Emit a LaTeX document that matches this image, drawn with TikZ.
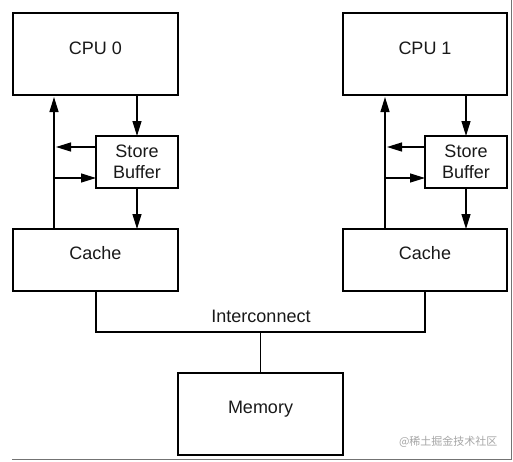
\documentclass[tikz,border=0pt]{standalone}
\usepackage{fontspec}
\setmainfont{Liberation Sans}
\newfontfamily\cjk{Noto Sans CJK SC}
\usetikzlibrary{arrows.meta,calc}
\begin{document}
\begin{tikzpicture}[x=1pt,y=-1pt,
  box/.style={draw,line width=1.3pt,minimum width=#1,inner sep=0pt,outer sep=0pt},
  lbl/.style={font=\fontsize{18}{21}\selectfont,text=black!90},
  arr/.style={line width=1.3pt,-{Triangle[length=15pt,width=9pt]}},
  wire/.style={line width=1.3pt}]
\useasboundingbox (0,0) rectangle (513,461);
\fill[white] (0,0) rectangle (513,461);
% left side
\node[box=165pt,minimum height=82pt,label={[lbl,yshift=6pt]center:CPU 0}] (cpu0) at (95.5,54) {};
\node[box=82pt,minimum height=52pt,lbl,align=center] (sb0) at (137,162) {Store\\Buffer};
\node[box=165pt,minimum height=62pt,label={[lbl,yshift=7pt]center:Cache}] (cache0) at (95.5,260) {};
% right side
\node[box=164pt,minimum height=82pt,label={[lbl,yshift=6pt]center:CPU 1}] (cpu1) at (425,54) {};
\node[box=82pt,minimum height=52pt,lbl,align=center] (sb1) at (466,162) {Store\\Buffer};
\node[box=164pt,minimum height=62pt,label={[lbl,yshift=7pt]center:Cache}] (cache1) at (425,260) {};
% memory
\node[box=165pt,minimum height=82pt,label={[lbl,yshift=5pt]center:Memory}] (mem) at (260.5,414) {};
\node[lbl] (ic) at (261,316) {Interconnect};
% connectors left
\coordinate (l0) at (54,229);
\coordinate (y0a) at (0,147);
\coordinate (y0b) at (0,178);
\draw[arr] (l0) -- ($(l0 |- cpu0.south)+(0,2)$);
\draw[arr] (sb0.west |- y0a) -- ($(l0 |- y0a)+(2,0)$);
\draw[arr] (l0 |- y0b) -- (sb0.west |- y0b);
\draw[arr] (cpu0.south -| sb0.north) -- (sb0.north);
\draw[arr] (sb0.south) -- (sb0.south |- cache0.north);
% connectors right
\coordinate (l1) at (385,229);
\draw[arr] (l1) -- ($(l1 |- cpu1.south)+(0,2)$);
\draw[arr] (sb1.west |- y0a) -- ($(l1 |- y0a)+(2,0)$);
\draw[arr] (l1 |- y0b) -- (sb1.west |- y0b);
\draw[arr] (cpu1.south -| sb1.north) -- (sb1.north);
\draw[arr] (sb1.south) -- (sb1.south |- cache1.north);
% interconnect
\coordinate (bus) at (0,332);
\draw[wire] ($(cache0.south)+(0.5,0)$) -- ($(cache0.south |- bus)+(0.5,0)$) -- (cache1.south |- bus) -- (cache1.south);
\draw[wire] (mem.north |- bus) -- (mem.north);
% watermark and frame shadow
\node[font=\cjk\fontsize{11}{13}\selectfont,text=black!35,anchor=east] (wm) at (501,442) {@稀土掘金技术社区};
\draw[black!55,line width=1pt] (511,0) -- (511,459) -- (12,459);
\end{tikzpicture}
\end{document}
